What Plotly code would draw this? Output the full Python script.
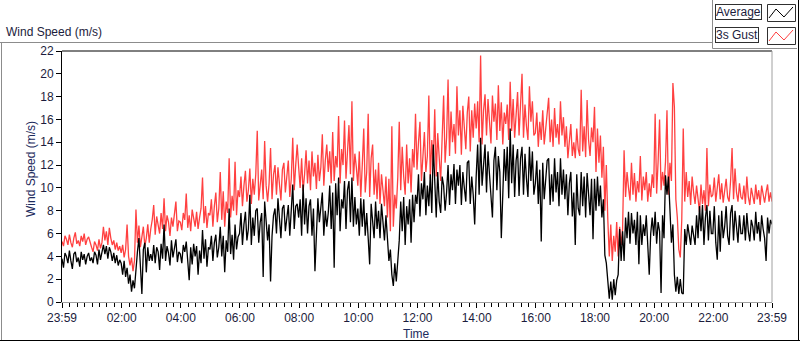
import pandas as pd
import plotly.graph_objects as go

# ---------------- data (3-minute samples, one row per hour) ----------------
gust = [
    5.3, 4.9, 5.8, 5.5, 5.0, 5.9, 5.2, 4.8, 5.6, 6.1, 5.1, 5.4, 4.9, 5.8, 5.3, 6.0, 5.0, 5.5, 5.7, 5.1,
    4.8, 4.4, 5.3, 5.0, 4.5, 5.5, 4.7, 5.2, 6.6, 5.4, 6.2, 5.0, 6.5, 5.6, 5.0, 5.4, 4.6, 5.2, 4.5, 4.9,
    4.3, 5.0, 3.9, 4.6, 6.8, 4.0, 3.2, 3.9, 2.7, 3.6, 8.1, 5.2, 6.7, 4.8, 5.9, 6.6, 4.9, 5.6, 6.8, 5.2,
    6.4, 7.2, 8.5, 5.9, 7.5, 6.8, 6.0, 7.8, 6.4, 9.1, 6.2, 7.6, 7.0, 5.8, 7.4, 6.6, 7.9, 8.8, 6.2, 7.1,
    7.0, 6.3, 7.8, 7.2, 9.5, 6.5, 7.6, 6.2, 8.1, 7.3, 6.6, 7.9, 6.4, 7.4, 8.2, 10.9, 6.9, 8.4, 6.5, 7.8,
    7.6, 9.0, 6.6, 8.4, 9.6, 7.0, 8.2, 11.4, 7.2, 9.7, 6.6, 8.8, 7.8, 12.6, 7.4, 9.3, 8.0, 12.3, 7.6, 9.8,
    9.2, 11.0, 8.4, 10.2, 11.5, 8.8, 9.8, 11.7, 8.6, 10.8, 9.4, 11.2, 15.0, 8.9, 10.4, 11.6, 9.0, 14.1, 10.2, 8.8,
    10.4, 13.5, 9.0, 11.2, 12.0, 9.4, 11.8, 10.2, 8.9, 11.6, 12.2, 9.6, 11.0, 12.4, 9.2, 10.8, 14.4, 9.8, 12.0, 13.8,
    11.8, 10.0, 12.6, 9.7, 11.2, 13.3, 10.4, 12.4, 9.8, 13.2, 11.0, 12.2, 9.9, 12.9, 10.6, 11.8, 14.7, 10.2, 12.4, 13.8,
    11.4, 13.2, 10.4, 14.9, 10.6, 12.8, 11.8, 16.3, 10.4, 13.4, 12.0, 15.9, 10.8, 13.6, 15.5, 11.2, 17.6, 10.6, 13.0, 11.8,
    10.2, 13.2, 9.2, 12.0, 15.2, 9.6, 11.4, 16.5, 9.2, 12.6, 13.8, 9.4, 11.6, 9.0, 12.2, 8.6, 11.2, 9.8, 8.4, 11.0,
    7.4, 10.8, 6.2, 15.4, 6.6, 9.4, 8.2, 10.9, 15.8, 9.8, 13.6, 11.0, 9.4, 13.8, 10.4, 12.6, 9.6, 13.4, 11.8, 16.5,
    11.6, 14.0, 15.8, 10.6, 13.2, 14.9, 11.4, 12.8, 18.1, 10.8, 14.2, 12.0, 16.9, 11.0, 14.8, 12.6, 10.6, 14.4, 18.1, 12.2,
    14.4, 19.5, 12.8, 16.7, 14.0, 15.6, 13.0, 18.9, 14.6, 16.8, 12.9, 17.2, 15.0, 13.4, 16.6, 18.0, 13.2, 16.8, 14.4, 17.4,
    15.2, 17.6, 14.0, 21.6, 13.8, 16.8, 18.2, 14.6, 17.8, 15.4, 13.9, 18.1, 15.8, 17.4, 14.2, 19.0, 15.0, 17.5, 13.8, 16.6,
    15.6, 17.3, 14.2, 19.3, 15.0, 17.8, 14.4, 16.4, 18.4, 14.6, 16.8, 20.0, 14.4, 17.3, 15.4, 14.2, 18.9, 15.8, 17.6, 14.6,
    14.8, 16.6, 13.6, 15.8, 14.2, 16.8, 13.8, 15.4, 16.4, 17.9, 14.0, 16.0, 13.6, 17.0, 14.4, 15.6, 13.8, 17.6, 14.6, 16.2,
    13.6, 15.4, 12.6, 14.6, 15.6, 12.8, 14.0, 12.6, 15.2, 13.4, 12.8, 18.6, 13.2, 15.4, 12.7, 17.7, 14.2, 12.8, 15.3, 14.0,
    17.1, 11.4, 15.2, 12.2, 14.6, 10.9, 13.6, 8.0, 12.0, 7.2, 4.0, 6.8, 3.6, 5.8, 4.4, 7.0, 4.0, 6.6, 5.0, 6.4,
    13.3, 9.2, 11.4, 10.0, 8.9, 12.2, 9.4, 11.3, 8.8, 10.6, 9.6, 12.8, 8.9, 11.0, 9.8, 11.4, 8.8, 10.4, 9.2, 11.2,
    10.0, 16.5, 9.5, 12.3, 16.0, 9.8, 11.4, 10.2, 12.3, 16.8, 9.4, 12.2, 10.6, 19.2, 17.1, 9.0, 7.4, 4.6, 3.9, 7.2,
    15.2, 8.8, 11.4, 9.2, 10.6, 8.5, 11.0, 9.6, 8.6, 10.2, 9.0, 7.9, 10.3, 8.6, 9.8, 8.0, 13.5, 8.4, 10.3, 9.2,
    9.4, 10.9, 8.8, 10.2, 11.2, 9.0, 10.4, 8.7, 9.8, 10.8, 9.2, 8.8, 10.6, 13.5, 9.0, 11.7, 9.6, 8.8, 10.4, 9.2,
    9.0, 10.2, 8.6, 11.0, 9.2, 8.5, 10.0, 9.4, 8.6, 10.3, 9.0, 9.8, 8.5, 10.2, 9.2, 8.7, 9.6, 10.3, 8.8, 9.6,
    8.8,
]

average = [
    3.8, 3.0, 4.3, 4.0, 3.4, 4.5, 3.6, 2.9, 4.2, 4.4, 3.5, 3.9, 3.1, 4.4, 3.7, 4.2, 3.3, 4.0, 4.3, 3.6,
    3.9, 3.4, 4.4, 4.1, 3.3, 4.6, 3.7, 4.3, 5.0, 4.2, 4.9, 3.8, 4.8, 4.4, 3.6, 4.3, 3.4, 4.1, 3.2, 3.7,
    3.4, 2.4, 3.6, 2.2, 3.0, 1.6, 2.4, 0.9, 1.9, 1.2, 3.0, 4.4, 5.6, 3.0, 0.7, 4.6, 5.2, 2.6, 4.8, 3.6,
    4.2, 3.6, 5.0, 3.4, 4.8, 4.4, 2.8, 5.1, 3.8, 6.8, 3.6, 4.9, 4.3, 3.2, 5.4, 3.9, 4.6, 5.5, 3.5, 4.4,
    4.2, 3.4, 5.0, 4.4, 5.3, 3.6, 1.9, 4.8, 3.3, 5.1, 4.0, 4.9, 2.4, 4.5, 3.4, 6.3, 3.8, 5.5, 3.1, 4.8,
    4.6, 5.8, 3.6, 5.2, 5.9, 3.9, 4.8, 6.6, 4.0, 5.8, 2.6, 5.4, 4.4, 8.2, 4.2, 5.9, 3.7, 6.8, 4.6, 5.7,
    6.0, 7.8, 5.0, 6.8, 7.9, 5.4, 6.4, 9.4, 5.0, 7.4, 5.8, 8.0, 8.2, 5.2, 7.0, 7.8, 2.2, 8.8, 6.6, 5.4,
    6.8, 1.8, 5.8, 7.6, 8.2, 6.0, 9.1, 7.0, 5.6, 8.2, 8.5, 6.2, 7.4, 8.5, 5.8, 7.6, 10.3, 6.4, 8.4, 8.6,
    7.4, 9.0, 5.8, 10.3, 6.8, 9.1, 6.0, 8.4, 9.0, 5.8, 8.2, 2.7, 6.4, 9.1, 7.0, 8.6, 9.6, 5.8, 8.0, 6.6,
    7.8, 10.2, 6.4, 9.6, 3.0, 10.4, 7.6, 10.9, 6.2, 9.0, 8.2, 10.6, 6.4, 9.8, 10.6, 7.0, 10.9, 6.6, 9.2, 6.8,
    8.2, 5.8, 9.1, 6.6, 9.0, 5.8, 7.8, 5.6, 3.3, 8.6, 7.4, 5.6, 8.8, 6.4, 8.0, 5.6, 8.6, 6.8, 5.4, 7.6,
    5.4, 3.6, 4.6, 2.4, 1.4, 3.4, 1.8, 3.6, 5.4, 8.8, 6.2, 9.2, 5.0, 8.4, 6.8, 9.0, 5.2, 9.4, 7.0, 9.4,
    8.6, 11.2, 7.5, 10.4, 9.0, 11.4, 7.6, 10.2, 8.4, 11.2, 7.8, 13.8, 9.6, 7.4, 11.4, 8.8, 7.8, 11.0, 10.2, 8.0,
    9.6, 12.0, 8.5, 11.2, 9.8, 12.1, 8.6, 11.6, 10.2, 12.0, 8.5, 11.4, 10.0, 8.8, 12.2, 12.4, 8.6, 11.0, 9.4, 6.8,
    11.0, 13.8, 9.4, 14.4, 10.2, 12.6, 13.8, 9.6, 13.2, 11.2, 9.5, 7.4, 12.4, 13.6, 9.8, 12.8, 11.4, 5.6, 9.4, 13.4,
    10.6, 13.6, 9.1, 15.2, 10.4, 13.8, 9.2, 12.4, 13.4, 9.3, 12.6, 13.6, 9.4, 13.0, 10.8, 9.2, 13.6, 10.6, 13.2, 9.4,
    10.4, 12.4, 8.6, 11.6, 5.3, 12.2, 9.0, 11.0, 12.4, 12.6, 8.5, 11.2, 8.8, 12.6, 9.6, 11.4, 8.4, 12.6, 9.4, 11.6,
    9.0, 11.2, 7.6, 10.4, 11.4, 7.5, 9.6, 5.0, 11.2, 8.2, 7.6, 11.4, 8.4, 11.0, 7.4, 11.3, 9.4, 7.6, 10.8, 5.5,
    10.8, 8.0, 11.0, 8.4, 10.2, 7.4, 9.0, 4.1, 3.4, 2.1, 0.3, 1.8, 0.2, 2.0, 0.6, 1.9, 2.4, 6.4, 3.6, 6.2,
    3.6, 7.4, 5.6, 7.9, 5.1, 7.8, 6.0, 7.2, 5.0, 7.9, 3.3, 7.6, 5.0, 6.8, 5.8, 7.6, 5.2, 2.4, 6.0, 7.4,
    5.8, 7.9, 5.1, 7.0, 6.2, 0.8, 7.6, 5.6, 11.1, 9.4, 11.0, 7.4, 5.2, 6.8, 2.4, 0.9, 2.2, 0.7, 2.0, 0.8,
    0.7, 6.4, 5.0, 6.8, 5.6, 5.0, 6.7, 5.8, 5.0, 7.6, 5.6, 8.4, 6.2, 8.5, 5.0, 7.4, 8.5, 5.4, 8.0, 6.0,
    6.0, 8.4, 5.2, 3.7, 7.6, 4.4, 8.0, 5.6, 6.6, 8.4, 5.8, 5.0, 7.8, 8.5, 5.4, 8.0, 6.4, 5.2, 7.6, 6.0,
    6.0, 7.6, 5.4, 7.8, 6.2, 5.3, 7.2, 6.6, 5.4, 7.9, 6.0, 7.0, 5.3, 7.6, 6.4, 5.6, 3.6, 7.4, 6.0, 7.2,
    6.8,
]

start_time = "2024-01-01 23:59"
sample_minutes = 3
times = pd.date_range(start_time, periods=len(average), freq=f"{sample_minutes}min")

tick_times = ["2024-01-01 23:59", "2024-01-02 02:00", "2024-01-02 04:00",
              "2024-01-02 06:00", "2024-01-02 08:00", "2024-01-02 10:00",
              "2024-01-02 12:00", "2024-01-02 14:00", "2024-01-02 16:00",
              "2024-01-02 18:00", "2024-01-02 20:00", "2024-01-02 22:00",
              "2024-01-02 23:59"]
tick_labels = ["23:59", "02:00", "04:00", "06:00", "08:00", "10:00", "12:00",
               "14:00", "16:00", "18:00", "20:00", "22:00", "23:59"]
y_ticks = [0, 2, 4, 6, 8, 10, 12, 14, 16, 18, 20, 22]

series_names = ["Average", "3s Gust"]
series_colors = ["#000000", "#ff4040"]

# ---------------- layout helpers ----------------
W, H = 800, 342
L, R, T, B = 62, 28, 51, 40
PW, PH = W - L - R, H - T - B


def px(x):
    return (x - L) / PW


def py(y):
    return (H - B - y) / PH


FONT = "Liberation Sans, Arial, sans-serif"
TXT = "#1c1c3c"

fig = go.Figure()
fig.add_trace(go.Scatter(x=times, y=gust, mode="lines", name=series_names[1],
                         line=dict(color=series_colors[1], width=1.3), showlegend=False))
fig.add_trace(go.Scatter(x=times, y=average, mode="lines", name=series_names[0],
                         line=dict(color=series_colors[0], width=1.3), showlegend=False))

fig.update_layout(
    width=W, height=H,
    margin=dict(l=L, r=R, t=T, b=B),
    paper_bgcolor="white", plot_bgcolor="white",
    font=dict(family=FONT, size=12, color=TXT),
    xaxis=dict(
        range=[times[0], times[-1]],
        tickmode="array", tickvals=tick_times, ticktext=tick_labels,
        ticks="outside", ticklen=5, tickcolor="#000000", tickwidth=1,
        showgrid=False, zeroline=False,
        showline=True, linecolor="#a0a0a0", linewidth=1,
        tickfont=dict(size=12, color=TXT),
        minor=dict(ticks="outside", ticklen=4, tickcolor="#000000",
                   tick0="2024-01-02 00:00", dtick=15 * 60 * 1000, showgrid=False),
    ),
    yaxis=dict(
        range=[0, 22], tickmode="array", tickvals=y_ticks,
        ticks="outside", ticklen=5, tickcolor="#000000", tickwidth=1,
        showgrid=False, zeroline=False,
        showline=True, linecolor="#000000", linewidth=1,
        tickfont=dict(size=12, color=TXT),
    ),
)

shapes = []
# plot area top (black) and right (gray) borders
shapes.append(dict(type="line", xref="paper", yref="paper", x0=0, x1=1, y0=1, y1=1,
                   line=dict(color="#000000", width=1)))
shapes.append(dict(type="line", xref="paper", yref="paper", x0=1, x1=1, y0=0, y1=1,
                   line=dict(color="#a0a0a0", width=1)))
# outer frame
shapes.append(dict(type="line", xref="paper", yref="paper", x0=px(0), x1=px(712),
                   y0=py(42.5), y1=py(42.5), line=dict(color="#8c8c8c", width=1)))
shapes.append(dict(type="line", xref="paper", yref="paper", x0=px(1.5), x1=px(1.5),
                   y0=py(42.5), y1=py(340), line=dict(color="#8c8c8c", width=1)))
shapes.append(dict(type="line", xref="paper", yref="paper", x0=px(0), x1=px(800),
                   y0=py(340.5), y1=py(340.5), line=dict(color="#000000", width=1)))
shapes.append(dict(type="line", xref="paper", yref="paper", x0=px(798.5), x1=px(798.5),
                   y0=py(0), y1=py(341), line=dict(color="#000000", width=1)))
# legend panel border
shapes.append(dict(type="line", xref="paper", yref="paper", x0=px(712.5), x1=px(712.5),
                   y0=py(0), y1=py(48.5), line=dict(color="#8c8c8c", width=1)))
shapes.append(dict(type="line", xref="paper", yref="paper", x0=px(712.5), x1=px(797),
                   y0=py(48.5), y1=py(48.5), line=dict(color="#8c8c8c", width=1)))

annotations = []
for i, (name, col) in enumerate(zip(series_names, series_colors)):
    top = 4 + 23 * i
    annotations.append(dict(text=name, xref="paper", yref="paper",
                            x=px(715), y=py(top), xanchor="left", yanchor="top",
                            showarrow=False, font=dict(size=12, color=TXT),
                            bordercolor="#303030", borderwidth=1, borderpad=0,
                            bgcolor="white"))
    shapes.append(dict(type="rect", xref="paper", yref="paper",
                       x0=px(767.5), x1=px(795.5), y0=py(top + 0.5), y1=py(top + 17.5),
                       line=dict(color="#303030", width=1), fillcolor="white"))
    pts = [(769, top + 14), (776, top + 5), (784, top + 13), (793, top + 3)]
    path = "M " + " L ".join(f"{px(a):.5f},{py(b):.5f}" for a, b in pts)
    shapes.append(dict(type="path", xref="paper", yref="paper", path=path,
                       line=dict(color=col, width=1)))

annotations.append(dict(text="Wind Speed (m/s)", xref="paper", yref="paper",
                        x=px(4), y=py(32), xanchor="left", yanchor="middle",
                        showarrow=False, font=dict(size=12, color=TXT)))
annotations.append(dict(text="Wind Speed (m/s)", xref="paper", yref="paper",
                        x=px(31), y=py(169), xanchor="center", yanchor="middle",
                        textangle=-90, showarrow=False, font=dict(size=12, color="#1c2a5c")))
annotations.append(dict(text="Time", xref="paper", yref="paper",
                        x=px(416), y=py(334), xanchor="center", yanchor="middle",
                        showarrow=False, font=dict(size=12, color="#1c2a5c")))

fig.update_layout(shapes=shapes, annotations=annotations)
fig.write_html("out.html", config={"displayModeBar": False},
               post_script="document.body.style.margin='0';")
